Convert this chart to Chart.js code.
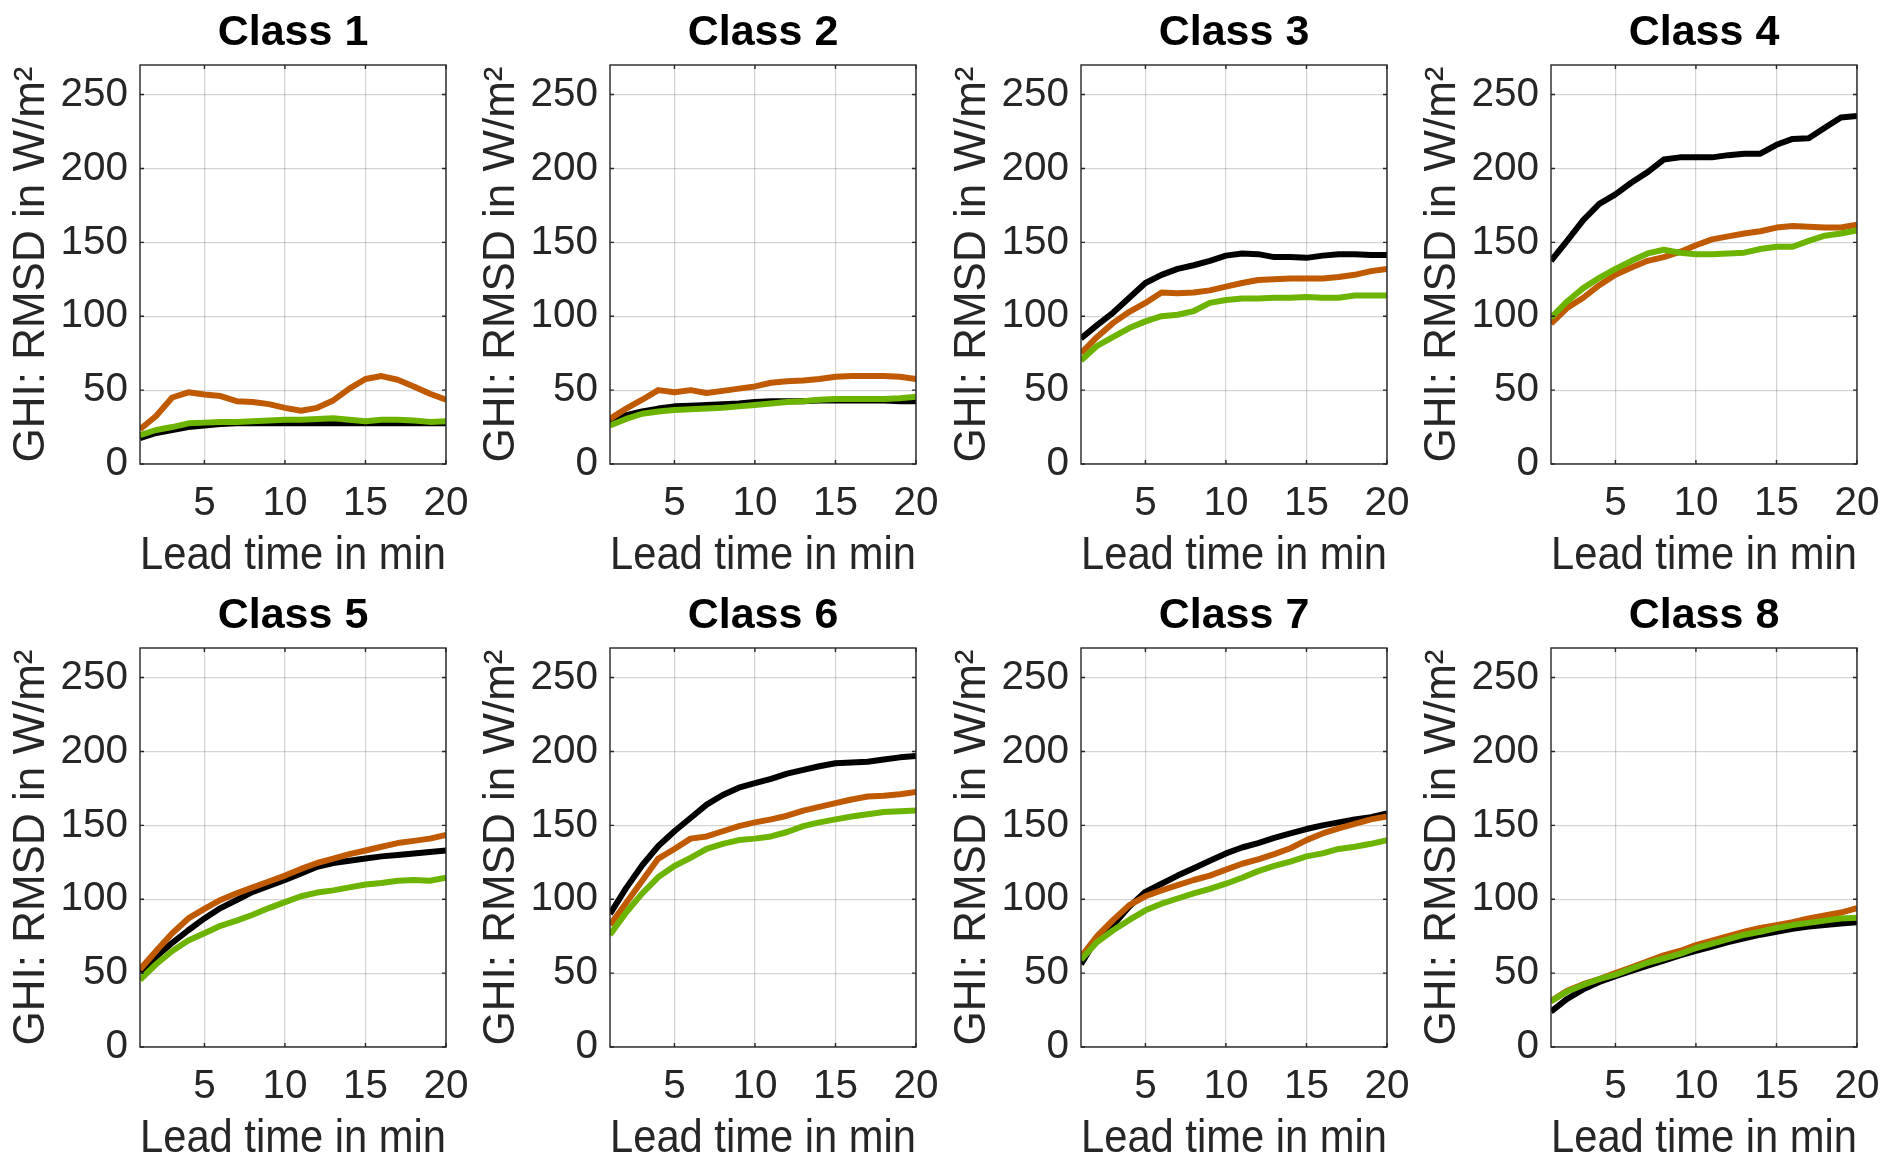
<!DOCTYPE html>
<html>
<head>
<meta charset="utf-8">
<script src="https://cdn.jsdelivr.net/npm/chart.js@4.4.1/dist/chart.umd.min.js"></script>
<style>
html, body { margin:0; padding:0; background:#ffffff; width:1881px; height:1159px; overflow:hidden; }
.panel { position:absolute; }
</style>
</head>
<body>
<script>
// ---------- data ----------
const leadTimes = [1,2,3,4,5,6,7,8,9,10,11,12,13,14,15,16,17,18,19,20];
const xTicks = [5,10,15,20];
const yTicks = [0,50,100,150,200,250];
const classTitles = ['Class 1','Class 2','Class 3','Class 4','Class 5','Class 6','Class 7','Class 8'];
const xLabel = 'Lead time in min';
const yLabel = 'GHI: RMSD in W/m²';

const c1Black  = [17.5,21,23,25,26,27,27.5,27.5,27.5,27.5,27.5,27.5,27.5,27.5,27.5,27.5,27.5,27.5,27.5,27.5];
const c1Orange = [23.5,32.5,45,48.5,47,46,42.5,42,40.5,38,36,38,43,51,57.5,59.5,57,52.5,47.5,43.5];
const c1Green  = [19.5,23,25,27.5,28,28.5,28.5,29,29.5,30,30,30.5,31,30,29,30,30,29.5,28.5,29];

const c2Black  = [29,33,35.5,37.5,39,39.5,40,40.5,41,42,42.5,42.5,42.5,43,43,43,43,43,42.5,42.5];
const c2Orange = [30.5,37.5,43.5,50,48.5,50,48,49.5,51,52.5,55,56,56.5,57.5,59,59.5,59.5,59.5,59,57.5];
const c2Green  = [26,30.5,34,35.5,36.5,37,37.5,38,39,40,41,42,42.5,43.5,44,44,44,44,44.5,45.5];

const c3Black  = [85,94,102.5,112.5,122.5,128,132,134.5,137.5,141,142.5,142,140,140,139.5,141,142,142,141.5,141.5];
const c3Orange = [75,86,95.5,103,109,116,115.5,116,117.5,120,122.5,124.5,125,125.5,125.5,125.5,126.5,128,130.5,132];
const c3Green  = [70,80,86,92,96.5,100,101,103.5,109,111,112,112,112.5,112.5,113,112.5,112.5,114,114,114];

const c4Black  = [137.5,151,165,176,182.5,190.5,197.5,206,207.5,207.5,207.5,209,210,210,216,220,220.5,227.5,234.5,235.5];
const c4Orange = [95,105.5,112.5,121,128,133,137.5,140,143.5,148,152,154,156,157.5,160,161,160.5,160,160,162];
const c4Green  = [99,110,119,126,132,137.5,142.5,145,143,142,142,142.5,143,145.5,147,147,151,154.5,156,158];

const c5Black  = [50.5,61,70.5,79,87,94,99.5,105,109,113,117.5,122,124.5,126,127.5,129,130,131,132,133];
const c5Orange = [52.5,65,77,87,93.5,99.5,104,108,112,116,120.5,124.5,127.5,130.5,133,135.5,138,139.5,141,143.5];
const c5Green  = [45.5,56,65,72,77,82,85.5,89.5,94,98,102,104.5,106,108,110,111,112.5,113,112.5,114.5];

const c6Black  = [90,107.5,123,136,146,155,164,170.5,175.5,178.5,181.5,185,187.5,190,192,192.5,193,194.5,196,197];
const c6Orange = [82.5,97.5,112.5,127.5,134,141,142.5,146,149.5,152,154,156.5,160,162.5,165,167.5,169.5,170,171,172.5];
const c6Green  = [76,91,104,115,122.5,128,134,137.5,140,141,142.5,145.5,149.5,152,154,156,157.5,159,159.5,160];

const c7Black  = [56,74,82.5,95,105,110.5,116,121,126,131,135,138,141.5,144.5,147.5,150,152,154,155.5,158];
const c7Orange = [61,75,86,96,102,106,109.5,113,116,120,124,127,130.5,134.5,140,144.5,148,151,154,156];
const c7Green  = [59,71,79,86,92.5,97,100.5,104,107,110.5,114.5,119,122.5,125.5,129,131,134,135.5,137.5,140];

const c8Black  = [24,32.5,39,44,48,51.5,55,58.5,62,65,68,71,73.5,76,78,80,81.5,82.5,83.5,84.5];
const c8Orange = [31,38,42.5,46,50,54,58,62,65,69,72,75,78,80.5,82.5,84.5,87,89,91,94];
const c8Green  = [31,37.5,42,46,49,53,57,60,63,67,70,73,76,78,80.5,82.5,84,85.5,87,87.5];

const blackSeries  = [c1Black, c2Black, c3Black, c4Black, c5Black, c6Black, c7Black, c8Black];
const orangeSeries = [c1Orange, c2Orange, c3Orange, c4Orange, c5Orange, c6Orange, c7Orange, c8Orange];
const greenSeries  = [c1Green, c2Green, c3Green, c4Green, c5Green, c6Green, c7Green, c8Green];

// ---------- style ----------
const FONT = "'Liberation Sans', Arial, Helvetica, sans-serif";
const TEXT = '#262626';
const COLORS = { black:'#000000', orange:'#bf5a00', green:'#6cb400' };
const PANEL_W = 470, PANEL_H = 583;
const PANEL_LEFTS = [0, 470, 941, 1411];
const PANEL_TOPS = [0, 583];

const framePlugin = {
  id: 'frame',
  afterDatasetsDraw(chart) {
    const {ctx, chartArea: a, scales} = chart;
    ctx.save();
    ctx.strokeStyle = TEXT;
    ctx.lineWidth = 1.4;
    ctx.beginPath();
    const tl = 4;
    yTicks.forEach(v => {
      const py = scales.y.getPixelForValue(v);
      ctx.moveTo(a.left, py); ctx.lineTo(a.left + tl, py);
      ctx.moveTo(a.right, py); ctx.lineTo(a.right - tl, py);
    });
    xTicks.forEach(v => {
      const px = scales.x.getPixelForValue(v);
      ctx.moveTo(px, a.bottom); ctx.lineTo(px, a.bottom - tl);
      ctx.moveTo(px, a.top); ctx.lineTo(px, a.top + tl);
    });
    ctx.stroke();
    ctx.strokeRect(a.left, a.top, a.right - a.left, a.bottom - a.top);
    ctx.restore();
  }
};

function toPoints(vals) { return leadTimes.map((t, i) => ({x: t, y: vals[i]})); }

function makeDataset(vals, color, order) {
  return {
    data: toPoints(vals),
    borderColor: color,
    backgroundColor: color,
    borderWidth: 6,
    pointRadius: 0,
    tension: 0,
    borderJoinStyle: 'round',
    borderCapStyle: 'butt',
    order: order
  };
}

for (let i = 0; i < 8; i++) {
  const col = i % 4, row = Math.floor(i / 4);
  const div = document.createElement('div');
  div.className = 'panel';
  div.style.left = PANEL_LEFTS[col] + 'px';
  div.style.top = PANEL_TOPS[row] + 'px';
  const cv = document.createElement('canvas');
  cv.width = PANEL_W; cv.height = PANEL_H;
  cv.style.width = PANEL_W + 'px'; cv.style.height = PANEL_H + 'px';
  div.appendChild(cv);
  document.body.appendChild(div);

  new Chart(cv, {
    type: 'line',
    data: {
      datasets: [
        makeDataset(blackSeries[i], COLORS.black, 2),
        makeDataset(orangeSeries[i], COLORS.orange, 1),
        makeDataset(greenSeries[i], COLORS.green, 0)
      ]
    },
    options: {
      responsive: false,
      maintainAspectRatio: false,
      animation: false,
      devicePixelRatio: 1,
      layout: { padding: { left: 0, right: 24, top: 0, bottom: 0 } },
      plugins: {
        legend: { display: false },
        tooltip: { enabled: false },
        title: {
          display: true,
          text: classTitles[i],
          fullSize: false,
          color: '#000000',
          font: { family: FONT, size: 43, weight: 'bold', lineHeight: 1.2 },
          padding: { top: 7.5, bottom: 5.9 }
        }
      },
      scales: {
        x: {
          type: 'linear',
          min: 1, max: 20,
          afterBuildTicks: s => { s.ticks = xTicks.map(v => ({value: v})); },
          afterFit: s => { s.height = PANEL_H - 464; s.paddingLeft = 0; s.paddingRight = 0; },
          grid: { color: 'rgba(38,38,38,0.2)', lineWidth: 1.2, drawTicks: false },
          border: { display: false },
          ticks: {
            padding: 15.5, color: TEXT, maxRotation: 0, autoSkip: false,
            font: { family: FONT, size: 40.5, lineHeight: 1.2 },
            callback: v => String(v)
          },
          title: {
            display: true, text: xLabel, color: TEXT,
            font: { family: FONT, size: 46.5, lineHeight: 1.2 },
            padding: { top: 0, bottom: -1.5 }
          }
        },
        y: {
          type: 'linear',
          min: 0, max: 270,
          afterBuildTicks: s => { s.ticks = yTicks.map(v => ({value: v})); },
          afterFit: s => { s.width = 140; s.paddingTop = 0; s.paddingBottom = 0; },
          grid: { color: 'rgba(38,38,38,0.2)', lineWidth: 1.2, drawTicks: false },
          border: { display: false },
          ticks: {
            padding: 12, color: TEXT,
            font: { family: FONT, size: 40.5, lineHeight: 1.2 },
            callback: v => String(v)
          },
          title: {
            display: true, text: yLabel, color: TEXT,
            font: { family: FONT, size: 44, lineHeight: 1.2 },
            padding: { top: 5, bottom: 0 }
          }
        }
      }
    },
    plugins: [framePlugin]
  });
}
</script>
</body>
</html>
